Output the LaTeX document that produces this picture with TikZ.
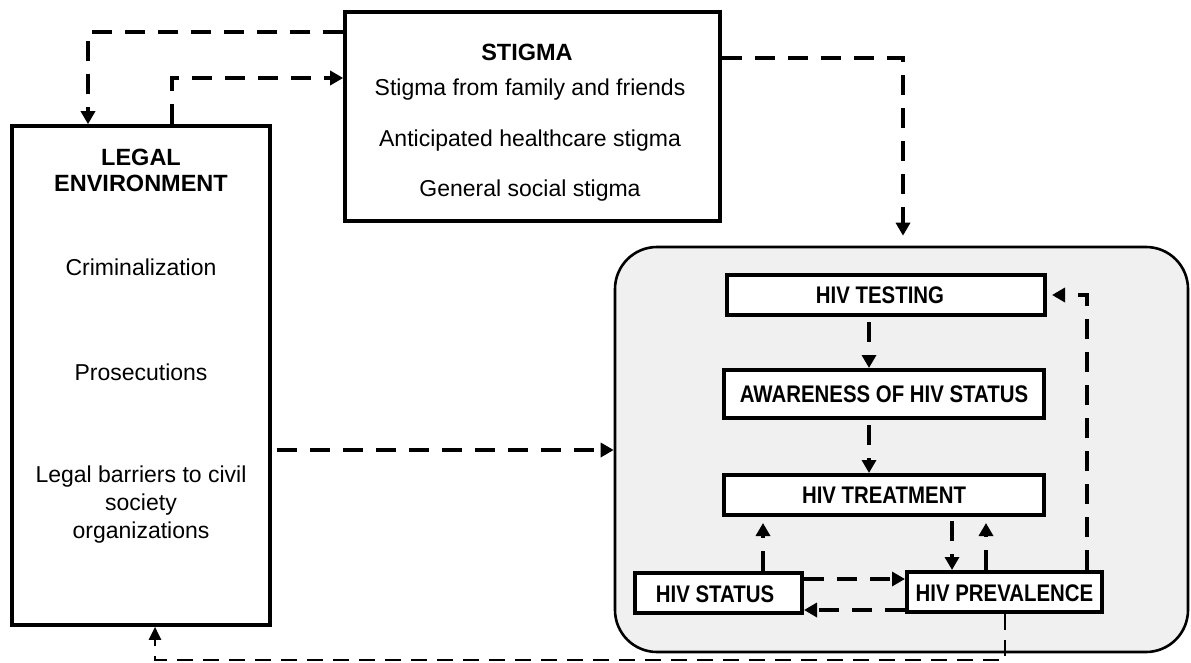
\documentclass[tikz,border=0pt]{standalone}
\usepackage{fontspec}
\setmainfont{Liberation Sans}
\usetikzlibrary{arrows.meta,calc}
\begin{document}
\begin{tikzpicture}[x=1pt,y=-1pt,
  box/.style={draw=black,line width=3.6pt,rectangle,inner sep=0pt},
  hivbox/.style={draw=black,line width=4pt,rectangle,inner sep=0pt,fill=white},
  txt/.style={font=\fontsize{23}{28}\selectfont,align=center,inner sep=0pt},
  ttl/.style={font=\fontsize{23.5}{26}\selectfont\bfseries,align=center,inner sep=0pt},
  hivtxt/.style={font=\fontsize{24}{28}\selectfont\bfseries},
  dl/.style={line width=4pt,dash pattern=on 20pt off 13pt,-{Triangle[length=13pt,width=14pt]}},
  dlthin/.style={line width=2.6pt,dash pattern=on 16pt off 10pt,-{Triangle[length=13pt,width=12pt]}}]
\useasboundingbox (0,0) rectangle (1191,663);
% helper coordinates
\coordinate (y32) at (0,32);
\coordinate (y78) at (0,78);
\coordinate (y58) at (0,58);
\coordinate (y450) at (0,450);
\coordinate (y579) at (0,579);
\coordinate (y610) at (0,610);
\coordinate (y295) at (0,295);
\coordinate (x88) at (88,0);
\coordinate (x172) at (172,0);
\coordinate (x903) at (903,0);
\coordinate (x869) at (869,0);
\coordinate (x763) at (763,0);
\coordinate (x952) at (952,0);
\coordinate (x986) at (986,0);
\coordinate (x1087) at (1087,0);
\coordinate (x1005) at (1005,0);
\coordinate (x155) at (155,0);
\coordinate (corner) at (1005,660);
% big rounded box
\node[draw=black,line width=2.6pt,fill=black!6,rounded corners=42pt,minimum width=573pt,minimum height=405pt,inner sep=0pt] (big) at (901.5,449.5) {};
% legal box
\node[box,minimum width=258pt,minimum height=499pt] (legal) at (141,375.5) {};
\node[ttl] (legalt) at (141,170) {LEGAL\\ENVIRONMENT};
\node[txt] (crim) at (141,267) {Criminalization};
\node[txt] (pros) at (141,372) {Prosecutions};
\node[txt] (barr) at (141,505) {Legal barriers to civil\\society\\organizations};
% stigma box
\node[box,minimum width=375pt,minimum height=209pt] (stigma) at (532.5,116.5) {};
\node[ttl] (stigt) at (527,52) {STIGMA};
\node[txt] (s1) at (530,90) {Stigma from family and friends};
\node[txt] (s2) at (530,141) {Anticipated healthcare stigma};
\node[txt] (s3) at (530,191) {General social stigma};
% HIV boxes
\node[hivbox,minimum width=318pt,minimum height=40pt] (testing) at (886,295) {};
\node[hivtxt] (testingt) at (880,295) {\scalebox{0.85}[1]{HIV TESTING}};
\node[hivbox,minimum width=320pt,minimum height=48pt] (aware) at (884,394) {};
\node[hivtxt] (awaret) at (884,394) {\scalebox{0.85}[1]{AWARENESS OF HIV STATUS}};
\node[hivbox,minimum width=320pt,minimum height=40pt] (treat) at (884,495) {};
\node[hivtxt] (treatt) at (884,495) {\scalebox{0.85}[1]{HIV TREATMENT}};
\node[hivbox,minimum width=167pt,minimum height=40pt] (status) at (718.5,593) {};
\node[hivtxt] (statust) at (715,594) {\scalebox{0.85}[1]{HIV STATUS}};
\node[hivbox,minimum width=195pt,minimum height=40pt] (prev) at (1004.5,592) {};
\node[hivtxt] (prevt) at (1004.5,593) {\scalebox{0.85}[1]{HIV PREVALENCE}};
% connectors
\draw[dl] (stigma.west |- y32) -| (legal.north -| x88);
\draw[dl] (legal.north -| x172) |- (stigma.west |- y78);
\draw[dl,shorten >=10pt] (stigma.east |- y58) -| (big.north -| x903);
\draw[dl,shorten <=5pt] (legal.east |- y450) -- (big.west |- y450);
\draw[dl,shorten <=5pt] (testing.south -| x869) -- (aware.north -| x869);
\draw[dl,shorten <=5pt] (aware.south -| x869) -- (treat.north -| x869);
\draw[dl,shorten >=6pt] (status.north -| x763) -- (treat.south -| x763);
\draw[dl,shorten <=4pt] (treat.south -| x952) -- (prev.north -| x952);
\draw[dl,shorten >=6pt] (prev.north -| x986) -- (treat.south -| x986);
\draw[dl] (status.east |- y579) -- (prev.west |- y579);
\draw[dl] (prev.west |- y610) -- (status.east |- y610);
\draw[dl,shorten >=5pt] (prev.north -| x1087) |- (testing.east |- y295);
\draw[dlthin] (prev.south -| x1005) -- (corner) -| (legal.south -| x155);
\end{tikzpicture}
\end{document}
